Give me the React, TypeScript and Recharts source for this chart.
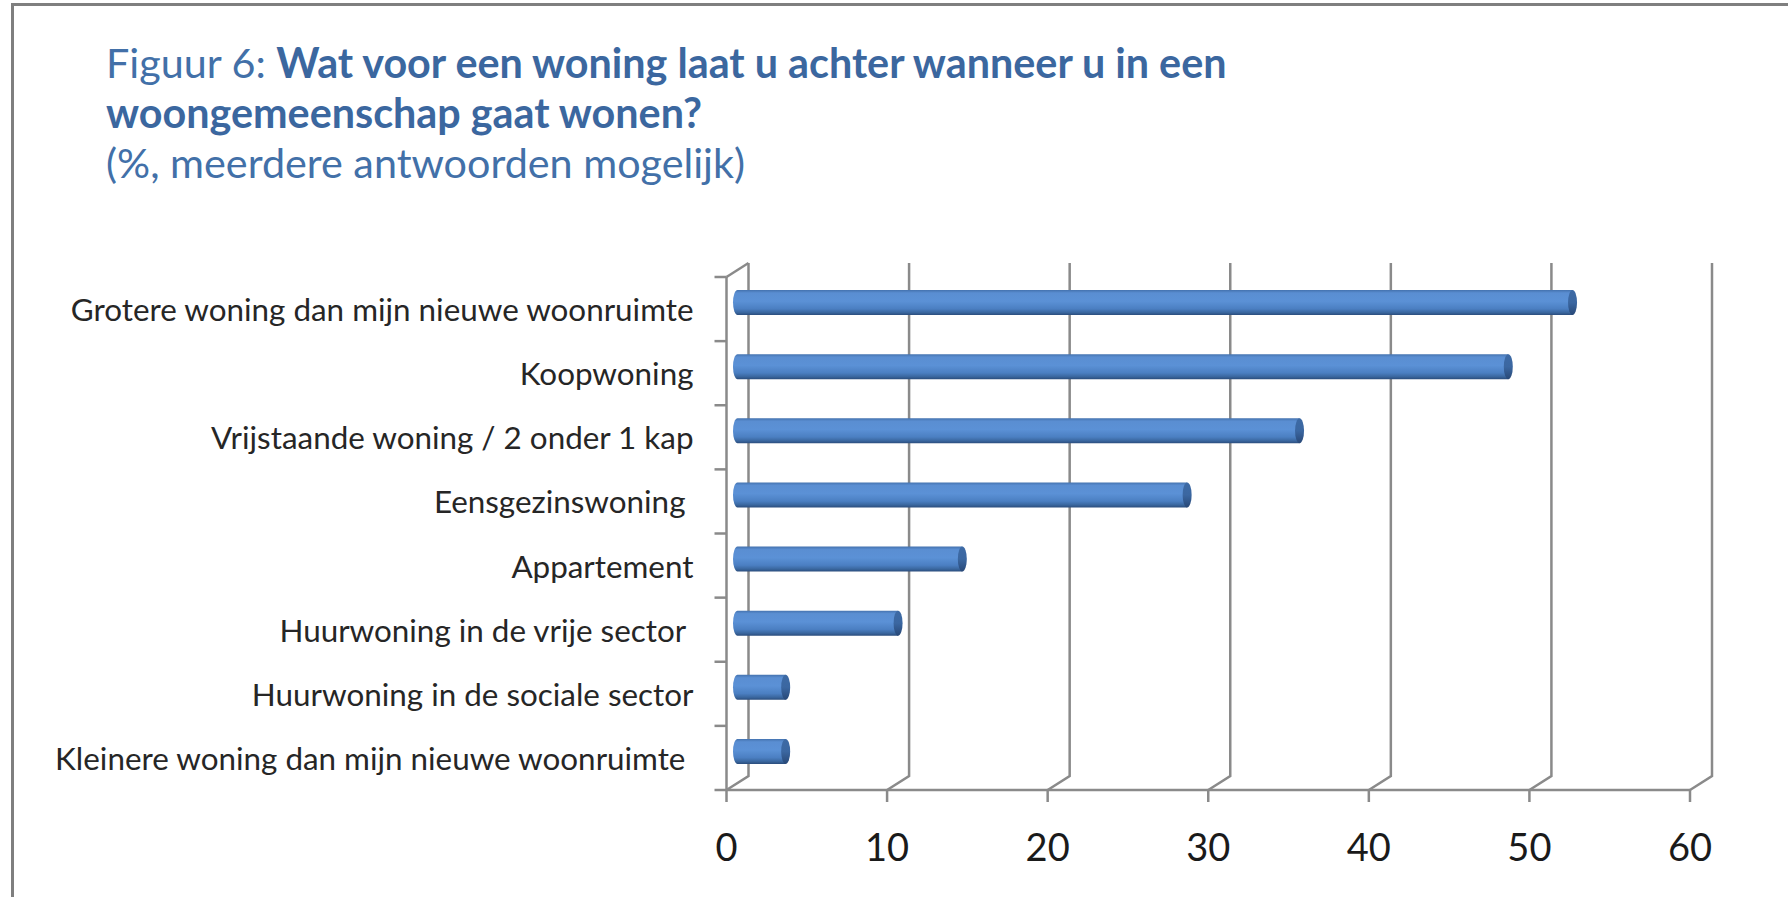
import React from "react";
import { BarChart, Bar, XAxis, YAxis, CartesianGrid } from "recharts";

const categories = [
  "Grotere woning dan mijn nieuwe woonruimte",
  "Koopwoning",
  "Vrijstaande woning / 2 onder 1 kap",
  "Eensgezinswoning ",
  "Appartement",
  "Huurwoning in de vrije sector ",
  "Huurwoning in de sociale sector",
  "Kleinere woning dan mijn nieuwe woonruimte ",
];
const values = [52, 48, 35, 28, 14, 10, 3, 3];
const xTicks = [0, 10, 20, 30, 40, 50, 60];

const titleNormal = "Figuur 6: ";
const titleBold1 = "Wat voor een woning laat u achter wanneer u in een";
const titleBold2 = "woongemeenschap gaat wonen?";
const subtitle = "(%, meerdere antwoorden mogelijk)";

const data = categories.map((name, i) => ({ name, value: values[i] }));

const DX = 22;
const DY = 14;
const GRID = "#8a8a8a";
const FONT = "Lato, 'Open Sans', sans-serif";

const Cylinder = (props: any) => {
  const { x, y, width, height } = props;
  if (width == null || height == null) return null;
  const ox = DX / 2;
  const oy = -DY / 2;
  const x0 = x + ox;
  const x1 = x + width + ox;
  const top = y + oy;
  const h = height;
  const rx = 4.5;
  const cy = top + h / 2;
  return (
    <g>
      <path
        d={`M ${x0} ${top} L ${x1} ${top} L ${x1} ${top + h} L ${x0} ${top + h} A ${rx} ${h / 2} 0 0 1 ${x0} ${top} Z`}
        fill="url(#cylBody)"
      />
      <ellipse cx={x1} cy={cy} rx={rx} ry={h / 2} fill="url(#cylCap)" />
    </g>
  );
};

const YTick = (props: any) => {
  const { x, y, payload } = props;
  return (
    <text
      x={x}
      y={y + 12}
      textAnchor="end"
      fill="#262626"
      style={{ fontFamily: FONT, fontSize: 31.4, whiteSpace: "pre" }}
    >
      {payload.value}
    </text>
  );
};

const XTick = (props: any) => {
  const { x, payload } = props;
  return (
    <text
      x={x}
      y={861}
      textAnchor="middle"
      fill="#1a1a1a"
      style={{ fontFamily: FONT, fontSize: 38 }}
    >
      {payload.value}
    </text>
  );
};

const VGrid = (props: any) => {
  const { x1, y1, y2, index } = props;
  return (
    <g>
      <path
        d={`M ${x1} ${y2} L ${x1 + DX} ${y2 - DY} L ${x1 + DX} ${y1 - DY}`}
        fill="none"
        stroke={GRID}
        strokeWidth={2.5}
      />
      {index === 0 ? (
        <path
          d={`M ${x1} ${y1} L ${x1 + DX} ${y1 - DY}`}
          fill="none"
          stroke={GRID}
          strokeWidth={2.5}
        />
      ) : null}
    </g>
  );
};

const HGrid = (props: any) => {
  const { x1, y1 } = props;
  return <line x1={x1 - 12} x2={x1} y1={y1} y2={y1} stroke={GRID} strokeWidth={2.5} />;
};

export default function App() {
  return (
    <div
      style={{
        position: "absolute",
        left: 0,
        top: 0,
        width: 1788,
        height: 897,
        background: "#ffffff",
        overflow: "hidden",
      }}
    >
      <div
        style={{
          position: "absolute",
          left: 11,
          top: 3,
          width: 1788,
          height: 897,
          borderTop: "3px solid #7f7f7f",
          borderLeft: "3px solid #7f7f7f",
        }}
      />
      <div style={{ position: "absolute", left: 0, top: 0 }}>
        <BarChart
          width={1788}
          height={897}
          data={data}
          layout="vertical"
          margin={{ top: 277, right: 98, bottom: 0, left: 0 }}
          barSize={25}
        >
          <defs>
            <linearGradient id="cylBody" x1="0" y1="0" x2="0" y2="1">
              <stop offset="0" stopColor="#4472ae" />
              <stop offset="0.12" stopColor="#5a8ed2" />
              <stop offset="0.45" stopColor="#5b91d6" />
              <stop offset="0.75" stopColor="#4b7fc2" />
              <stop offset="0.9" stopColor="#3a679f" />
              <stop offset="1" stopColor="#2b4d7d" />
            </linearGradient>
            <linearGradient id="cylCap" x1="0" y1="0" x2="0" y2="1">
              <stop offset="0" stopColor="#3d6aa5" />
              <stop offset="0.5" stopColor="#3b67a1" />
              <stop offset="1" stopColor="#284877" />
            </linearGradient>
          </defs>
          <CartesianGrid
            vertical={VGrid}
            horizontal={HGrid}
            horizontalCoordinatesGenerator={({ offset }: any) =>
              Array.from(
                { length: categories.length + 1 },
                (_, i) => offset.top + (i * offset.height) / categories.length
              )
            }
          />
          <XAxis
            type="number"
            domain={[0, 60]}
            ticks={xTicks}
            height={107}
            axisLine={{ stroke: GRID, strokeWidth: 2.5 }}
            tickLine={{ stroke: GRID, strokeWidth: 2.5 }}
            tickSize={12}
            tick={<XTick />}
            interval={0}
          />
          <YAxis
            type="category"
            dataKey="name"
            width={726.5}
            axisLine={{ stroke: GRID, strokeWidth: 2.5 }}
            tickLine={false}
            tickSize={0}
            tickMargin={33}
            tick={<YTick />}
            interval={0}
          />
          <Bar dataKey="value" isAnimationActive={false} shape={<Cylinder />} />
        </BarChart>
      </div>
      <svg
        width={1788}
        height={220}
        style={{ position: "absolute", left: 0, top: 0, pointerEvents: "none" }}
      >
        <text x={106} y={78} fill="#4270a8" style={{ fontFamily: FONT, fontSize: 41.3 }}>
          <tspan>{titleNormal}</tspan>
          <tspan fontWeight="bold" fill="#3b679f">{titleBold1}</tspan>
        </text>
        <text
          x={106}
          y={128}
          fill="#3b679f"
          fontWeight="bold"
          style={{ fontFamily: FONT, fontSize: 41.3 }}
        >
          {titleBold2}
        </text>
        <text x={106} y={178} fill="#4270a8" style={{ fontFamily: FONT, fontSize: 41.3 }}>
          {subtitle}
        </text>
      </svg>
    </div>
  );
}
